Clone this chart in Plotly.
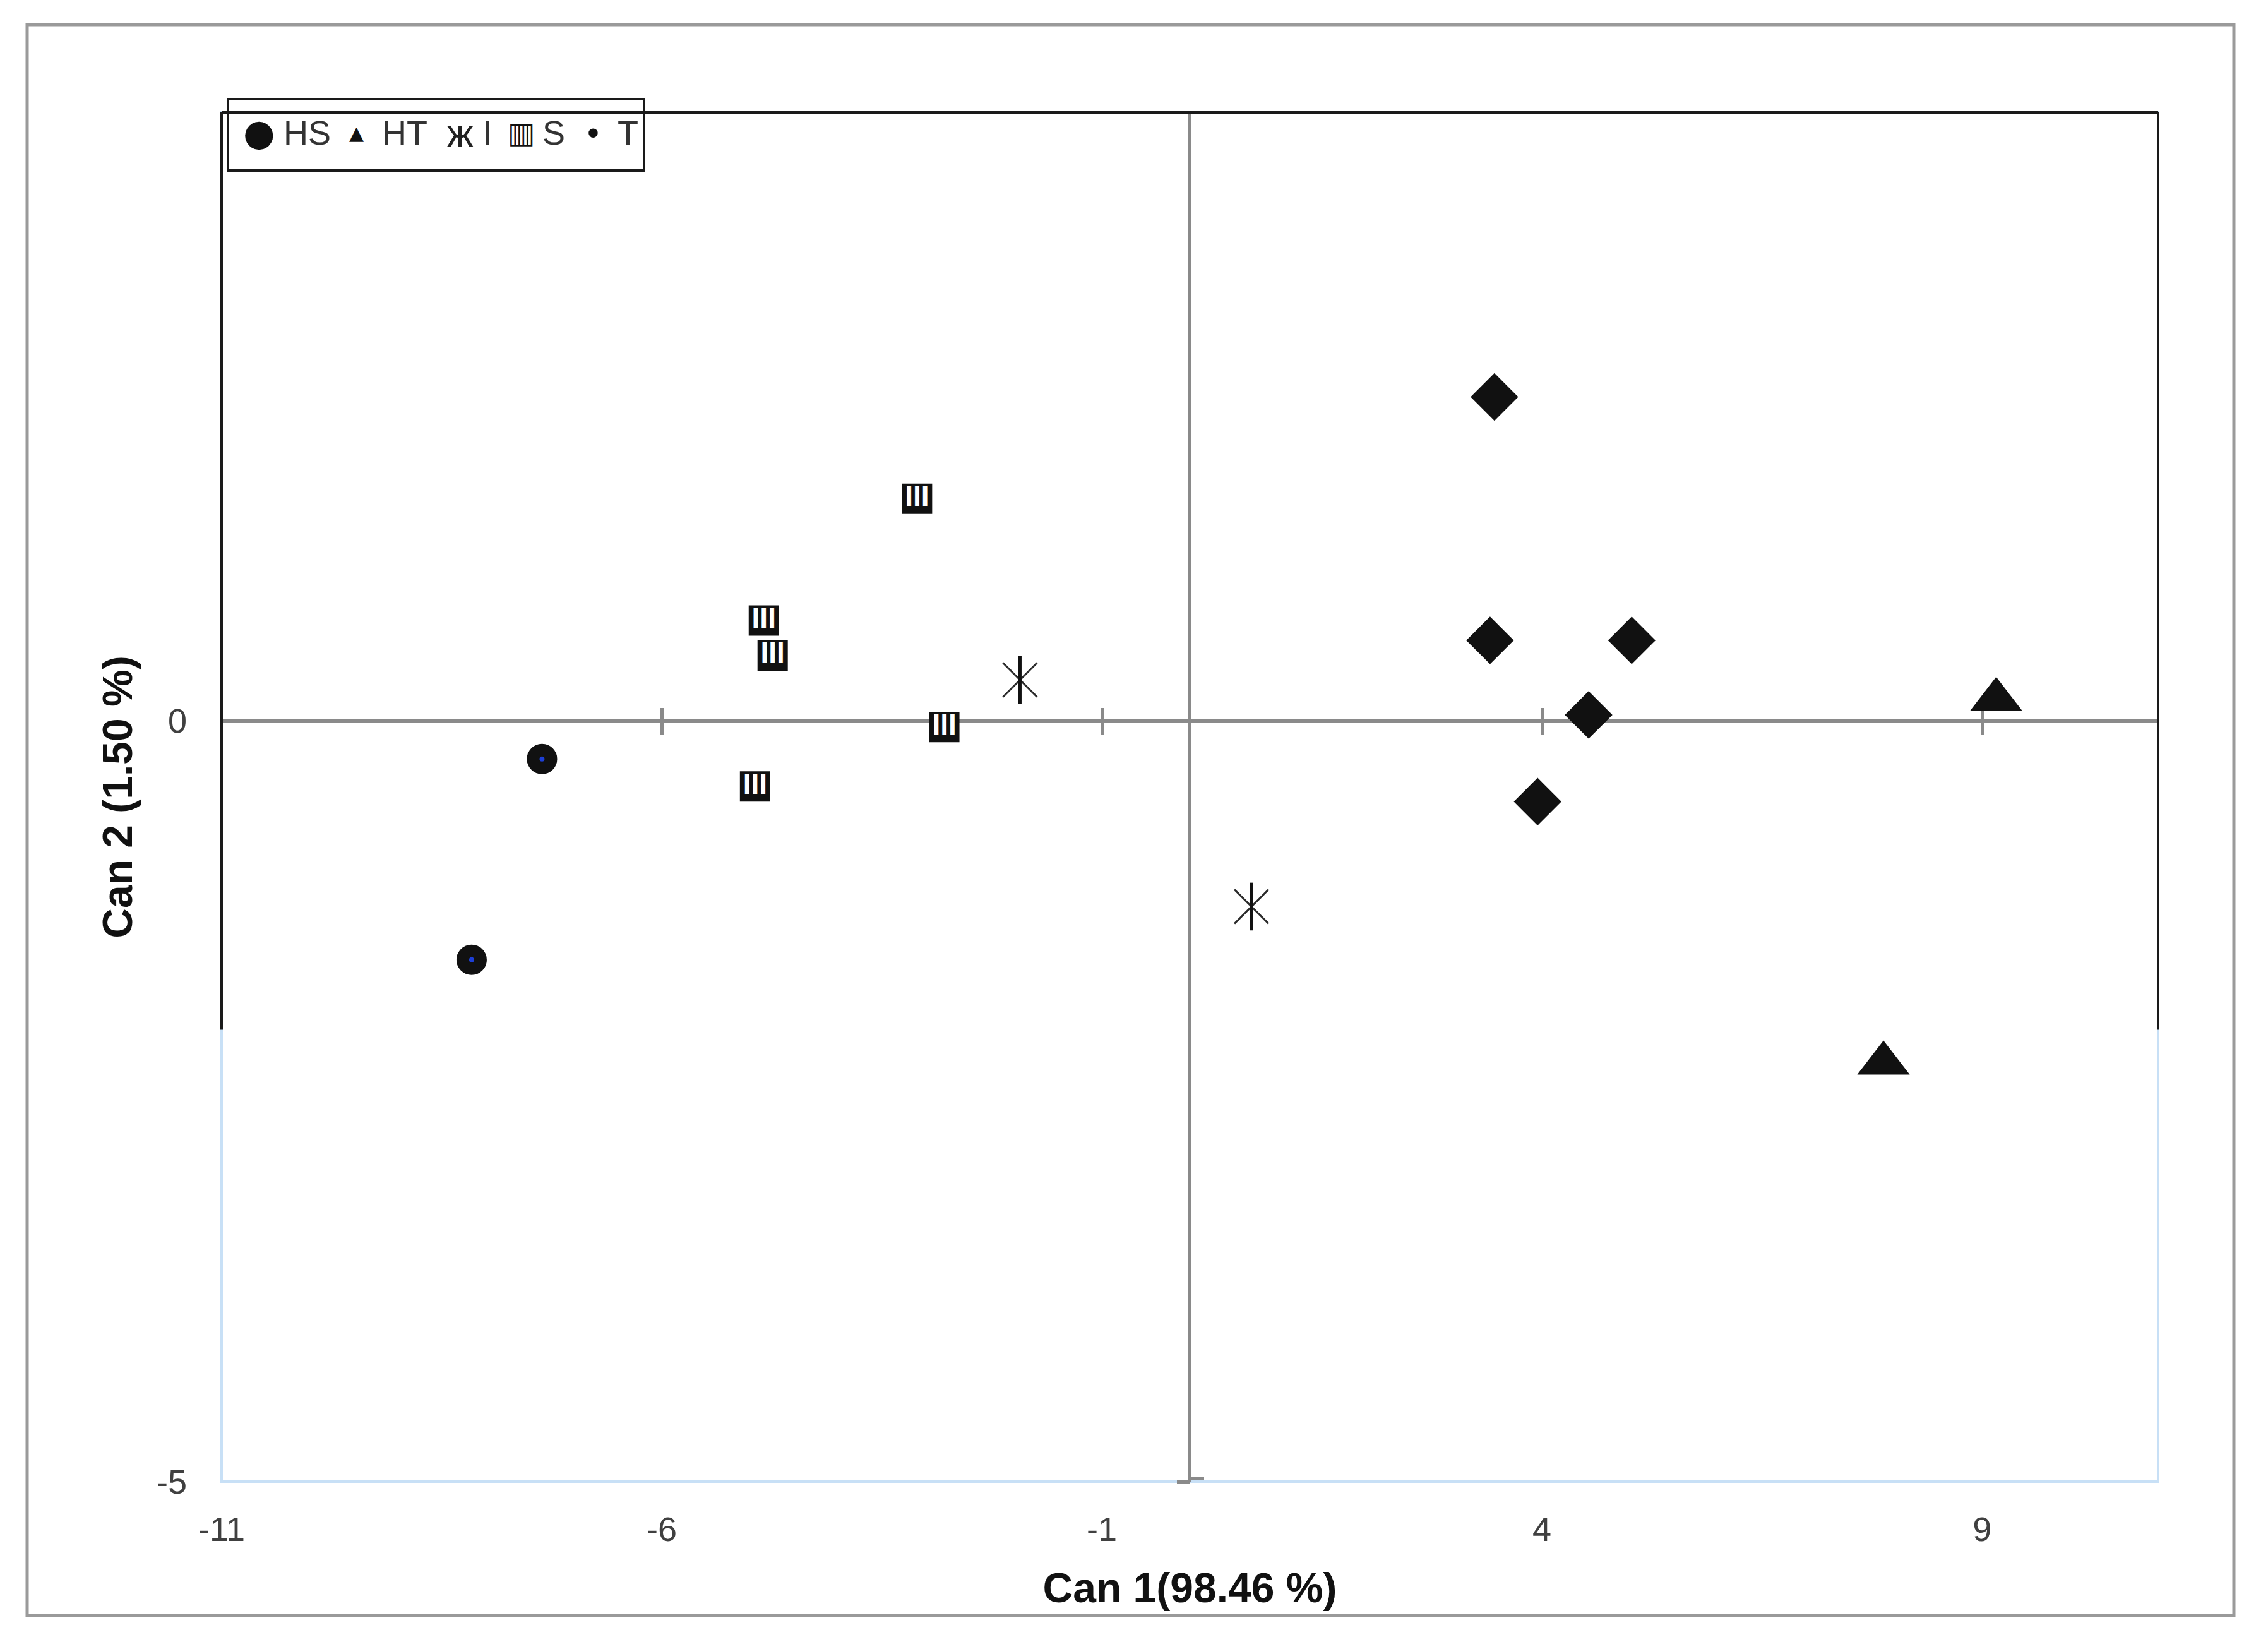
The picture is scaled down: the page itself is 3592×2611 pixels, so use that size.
import plotly.graph_objects as go

# ---------------- data ----------------
groups = ["HS", "HT", "I", "S", "T"]

hs_x = [-7.36, -8.16]
hs_y = [-0.25, -1.57]

ht_x = [9.16, 7.88]
ht_y = [0.14, -2.25]

i_x = [-1.93, 0.70]
i_y = [0.27, -1.22]

s_x = [-3.10, -4.84, -4.74, -2.79, -4.94]
s_y = [1.46, 0.66, 0.43, -0.04, -0.43]

t_x = [3.46, 3.41, 5.02, 4.53, 3.95]
t_y = [2.13, 0.53, 0.53, 0.04, -0.53]

x_tickvals = [-11, -6, -1, 4, 9]
y_tickvals = [-5, 0]
x_cross_ticks = [-6, -1, 4, 9]
y_cross_ticks = [-5]
x_range = [-11, 11]
y_range = [-5, 4]

x_title = "Can 1(98.46 %)"
y_title = "Can 2 (1.50 %)"

# ---------------- figure ----------------
W, H = 3592, 2611
OFF = 8  # page body margin
PL, PR, PT, PB = 351, 3418, 178, 2346  # plot area in page pixels
ML, MR, MT, MB = PL - OFF, W - PR + OFF, PT - OFF, H - PB + OFF
PW, PH = PR - PL, PB - PT

def px_x(p):
    return (p - PL) / PW

def px_y(p):
    return (PB - p) / PH

fig = go.Figure()

BLACK = "#111111"

# HS : black circle with a small blue centre
fig.add_trace(go.Scatter(
    x=hs_x, y=hs_y, mode="markers", name="HS", showlegend=False,
    marker=dict(symbol="circle", size=28, color="#1d3fd6",
                line=dict(width=20, color=BLACK)),
))
# HT : triangles
fig.add_trace(go.Scatter(
    x=ht_x, y=ht_y, mode="markers", name="HT", showlegend=False,
    marker=dict(symbol="triangle-up", size=72, color=BLACK, line=dict(width=0)),
))
# I : six-spoke asterisk (x + vertical bar)
fig.add_trace(go.Scatter(
    x=i_x, y=i_y, mode="markers", name="I", showlegend=False,
    marker=dict(symbol="x-thin-open", size=54, color="#2a2a2a",
                line=dict(width=3, color="#2a2a2a")),
))
fig.add_trace(go.Scatter(
    x=i_x, y=i_y, mode="markers", name="I", showlegend=False,
    marker=dict(symbol="line-ns-open", size=54, color="#111111",
                line=dict(width=5, color="#111111")),
))
# S : black square with three white vertical slits
fig.add_trace(go.Scatter(
    x=s_x, y=s_y, mode="markers+text", name="S", showlegend=False,
    text=["III"] * len(s_x), textposition="middle center",
    textfont=dict(family="Liberation Sans, Arial", size=46, color="white", weight="bold"),
    marker=dict(symbol="square", size=48, color=BLACK, line=dict(width=0)),
))
# T : diamonds
fig.add_trace(go.Scatter(
    x=t_x, y=t_y, mode="markers", name="T", showlegend=False,
    marker=dict(symbol="diamond", size=58, color=BLACK, line=dict(width=0)),
))

# empty traces so the crossing-tick overlay axes are drawn
for xa, ya in [("x2", "y"), ("x3", "y"), ("x", "y2"), ("x", "y3")]:
    fig.add_trace(go.Scatter(x=[None], y=[None], xaxis=xa, yaxis=ya,
                             mode="markers", showlegend=False, hoverinfo="skip"))

AX_GRAY = "#8a8a8a"
tick_font = dict(family="Liberation Sans, Arial", size=54, color="#404040")
title_font = dict(family="Liberation Sans, Arial", size=66, color="#111111", weight="bold")
x0_pos = (0 - y_range[0]) / (y_range[1] - y_range[0])
y0_pos = (0 - x_range[0]) / (x_range[1] - x_range[0])

# inside ticks exactly at the range end are clipped by plotly; nudge them a hair inward
y_span = y_range[1] - y_range[0]
y_inside_ticks = [min(max(v, y_range[0] + 0.002 * y_span), y_range[1] - 0.002 * y_span)
                  for v in y_cross_ticks]

cross_x = dict(range=x_range, tickmode="array", tickvals=x_cross_ticks,
               showticklabels=False, showgrid=False, zeroline=False, showline=False,
               ticklen=21, tickwidth=5, tickcolor=AX_GRAY, layer="below traces",
               overlaying="x", anchor="free", position=x0_pos, side="bottom")
cross_y = dict(range=y_range, tickmode="array", tickvals=y_cross_ticks,
               showticklabels=False, showgrid=False, zeroline=False, showline=False,
               ticklen=21, tickwidth=5, tickcolor=AX_GRAY, layer="below traces",
               overlaying="y", anchor="free", position=y0_pos, side="left")

fig.update_layout(
    width=W, height=H,
    margin=dict(l=ML, r=MR, t=MT, b=MB, pad=0),
    paper_bgcolor="white", plot_bgcolor="white",
    showlegend=False,
    xaxis=dict(
        range=x_range, tickmode="array", tickvals=x_tickvals,
        ticktext=[str(v) for v in x_tickvals],
        showgrid=False, showline=False, ticks="",
        zeroline=True, zerolinecolor=AX_GRAY, zerolinewidth=5,
        tickfont=tick_font, ticklabelstandoff=39,
        title=dict(text=x_title, font=title_font, standoff=40),
    ),
    yaxis=dict(
        range=y_range, tickmode="array", tickvals=y_tickvals,
        ticktext=[str(v) for v in y_tickvals],
        showgrid=False, showline=False, ticks="",
        zeroline=True, zerolinecolor=AX_GRAY, zerolinewidth=5,
        tickfont=tick_font, ticklabelstandoff=54,
        title=dict(text=y_title, font=title_font, standoff=16),
    ),
    xaxis2=dict(cross_x, ticks="outside"),
    xaxis3=dict(cross_x, ticks="inside"),
    yaxis2=dict(cross_y, ticks="outside"),
    yaxis3=dict(cross_y, ticks="inside", tickvals=y_inside_ticks),
)

shapes = []
# outer picture frame
shapes.append(dict(type="rect", xref="paper", yref="paper",
                   x0=px_x(43), x1=px_x(3538), y0=px_y(2558), y1=px_y(39),
                   line=dict(color="#9a9a9a", width=5), layer="below"))
# light-blue plot-area border
shapes.append(dict(type="rect", xref="paper", yref="paper",
                   x0=0, x1=1, y0=0, y1=1,
                   line=dict(color="#c8e0f6", width=4), layer="below"))
# black frame over the upper part of the plot area
y_black_end = 0.33
for (x0, y0, x1, y1) in [(0, 1, 1, 1), (0, 1, 0, y_black_end), (1, 1, 1, y_black_end)]:
    shapes.append(dict(type="line", xref="paper", yref="paper",
                       x0=x0, y0=y0, x1=x1, y1=y1,
                       line=dict(color="#1a1a1a", width=4)))
# legend box
shapes.append(dict(type="rect", xref="paper", yref="paper",
                   x0=px_x(361), x1=px_x(1020), y0=px_y(270), y1=px_y(157),
                   line=dict(color="#1a1a1a", width=4)))
fig.update_layout(shapes=shapes)

# legend content (glyph + label per group)
legend_glyphs = ["\u25CF", "\u25B2", "\u0436", "\u25A5", "\u2022"]
legend_glyph_fonts = [
    dict(family="DejaVu Sans", size=58, color="#111111"),
    dict(family="DejaVu Sans", size=30, color="#111111"),
    dict(family="Liberation Sans, Arial", size=62, color="#222222"),
    dict(family="DejaVu Sans", size=46, color="#111111"),
    dict(family="Liberation Sans, Arial", size=54, color="#111111"),
]
glyph_px = [410, 564, 729, 825, 939]
label_px = [447, 603, 763, 857, 976]
leg_y = px_y(210)
ann = []
for g, gf, gx, lx, name in zip(legend_glyphs, legend_glyph_fonts, glyph_px, label_px, groups):
    ann.append(dict(xref="paper", yref="paper", x=px_x(gx), y=leg_y, text=g,
                    showarrow=False, xanchor="center", yanchor="middle", font=gf))
    ann.append(dict(xref="paper", yref="paper", x=px_x(lx), y=leg_y, text=name,
                    showarrow=False, xanchor="left", yanchor="middle",
                    font=dict(family="Liberation Sans, Arial", size=54, color="#333333")))
fig.update_layout(annotations=ann)

fig.write_html("out.html")
